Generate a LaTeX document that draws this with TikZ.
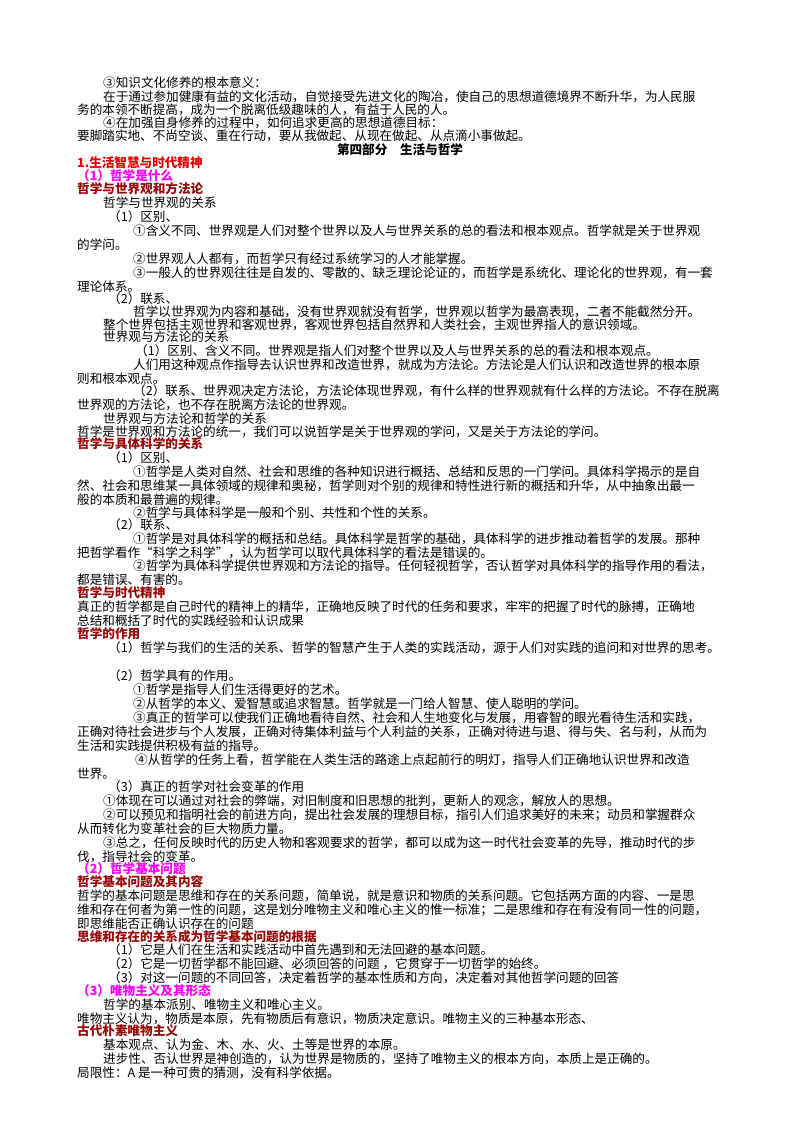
\documentclass[tikz,border=0pt]{standalone}
\usepackage{fontspec}
\setmainfont{Noto Sans CJK SC}
\definecolor{hred}{RGB}{235,0,0}
\definecolor{hmag}{RGB}{255,0,255}
\definecolor{hdark}{RGB}{150,10,10}
\tikzset{ln/.style={anchor=west,inner sep=0pt,font=\fontsize{12.6}{14}\selectfont},
hd/.style={ln,font=\fontsize{12.6}{14}\selectfont\bfseries}}
\newcommand\Lx[4][]{\node[ln,#1] at (#2,#3) {#4};}
\newcommand\Hx[4]{\node[hd,text=#1] at (#2,#3) {#4};}
\begin{document}
\begin{tikzpicture}[x=1pt,y=-1pt]
\useasboundingbox[fill=white] (0,0) rectangle (800,1132);
\Lx{103}{83}{③知识文化修养的根本意义：}
\Lx{103}{97}{在于通过参加健康有益的文化活动，自觉接受先进文化的陶冶，使自己的思想道德境界不断升华，为人民服}
\Lx{77}{110}{务的本领不断提高，成为一个脱离低级趣味的人，有益于人民的人。}
\Lx{103}{123}{④在加强自身修养的过程中，如何追求更高的思想道德目标：}
\Lx{77}{136}{要脚踏实地、不尚空谈、重在行动，要从我做起、从现在做起、从点滴小事做起。}
\node[hd,anchor=center] at (400,150) {第四部分\quad 生活与哲学};
\Hx{hred}{77}{163}{1.生活智慧与时代精神}
\Hx{hmag}{77}{176}{（1）哲学是什么}
\Hx{hdark}{77}{189}{哲学与世界观和方法论}
\Lx{103}{203}{哲学与世界观的关系}
\Lx{108}{217}{（1）区别、}
\Lx{133}{231}{①含义不同、世界观是人们对整个世界以及人与世界关系的总的看法和根本观点。哲学就是关于世界观}
\Lx{77}{245}{的学问。}
\Lx{133}{259}{②世界观人人都有，而哲学只有经过系统学习的人才能掌握。}
\Lx{133}{273}{③一般人的世界观往往是自发的、零散的、缺乏理论论证的，而哲学是系统化、理论化的世界观，有一套}
\Lx{77}{287}{理论体系。}
\Lx{108}{299}{（2）联系、}
\Lx{133}{312}{哲学以世界观为内容和基础，没有世界观就没有哲学，世界观以哲学为最高表现，二者不能截然分开。}
\Lx{103}{325}{整个世界包括主观世界和客观世界，客观世界包括自然界和人类社会，主观世界指人的意识领域。}
\Lx{103}{337}{世界观与方法论的关系}
\Lx{135}{351}{（1）区别、含义不同。世界观是指人们对整个世界以及人与世界关系的总的看法和根本观点。}
\Lx{133}{365}{人们用这种观点作指导去认识世界和改造世界，就成为方法论。方法论是人们认识和改造世界的根本原}
\Lx{77}{379}{则和根本观点。}
\Lx{133}{391}{（2）联系、世界观决定方法论，方法论体现世界观，有什么样的世界观就有什么样的方法论。不存在脱离}
\Lx{77}{405}{世界观的方法论，也不存在脱离方法论的世界观。}
\Lx{103}{419}{世界观与方法论和哲学的关系}
\Lx{77}{432}{哲学是世界观和方法论的统一，我们可以说哲学是关于世界观的学问，又是关于方法论的学问。}
\Hx{hdark}{77}{444}{哲学与具体科学的关系}
\Lx{108}{458}{（1）区别、}
\Lx{133}{472}{①哲学是人类对自然、社会和思维的各种知识进行概括、总结和反思的一门学问。具体科学揭示的是自}
\Lx{77}{486}{然、社会和思维某一具体领域的规律和奥秘，哲学则对个别的规律和特性进行新的概括和升华，从中抽象出最一}
\Lx{77}{500}{般的本质和最普遍的规律。}
\Lx{133}{513}{②哲学与具体科学是一般和个别、共性和个性的关系。}
\Lx{108}{525}{（2）联系、}
\Lx{133}{539}{①哲学是对具体科学的概括和总结。具体科学是哲学的基础，具体科学的进步推动着哲学的发展。那种}
\Lx{77}{553}{把哲学看作“科学之科学”，认为哲学可以取代具体科学的看法是错误的。}
\Lx{133}{566}{②哲学为具体科学提供世界观和方法论的指导。任何轻视哲学，否认哲学对具体科学的指导作用的看法，}
\Lx{77}{580}{都是错误、有害的。}
\Hx{hdark}{77}{593}{哲学与时代精神}
\Lx{77}{607}{真正的哲学都是自己时代的精神上的精华，正确地反映了时代的任务和要求，牢牢的把握了时代的脉搏，正确地}
\Lx{77}{621}{总结和概括了时代的实践经验和认识成果}
\Hx{hdark}{77}{634}{哲学的作用}
\Lx{108}{648}{（1）哲学与我们的生活的关系、哲学的智慧产生于人类的实践活动，源于人们对实践的追问和对世界的思考。}
\Lx{108}{676}{（2）哲学具有的作用。}
\Lx{133}{690}{①哲学是指导人们生活得更好的艺术。}
\Lx{133}{704}{②从哲学的本义、爱智慧或追求智慧。哲学就是一门给人智慧、使人聪明的学问。}
\Lx{133}{718}{③真正的哲学可以使我们正确地看待自然、社会和人生地变化与发展，用睿智的眼光看待生活和实践，}
\Lx{77}{732}{正确对待社会进步与个人发展，正确对待集体利益与个人利益的关系，正确对待进与退、得与失、名与利，从而为}
\Lx{77}{746}{生活和实践提供积极有益的指导。}
\Lx{135}{760}{④从哲学的任务上看，哲学能在人类生活的路途上点起前行的明灯，指导人们正确地认识世界和改造}
\Lx{77}{774}{世界。}
\Lx{108}{787}{（3）真正的哲学对社会变革的作用}
\Lx{103}{801}{①体现在可以通过对社会的弊端，对旧制度和旧思想的批判，更新人的观念，解放人的思想。}
\Lx{103}{815}{②可以预见和指明社会的前进方向，提出社会发展的理想目标，指引人们追求美好的未来；动员和掌握群众}
\Lx{77}{829}{从而转化为变革社会的巨大物质力量。}
\Lx{103}{843}{③总之，任何反映时代的历史人物和客观要求的哲学，都可以成为这一时代社会变革的先导，推动时代的步}
\Lx{77}{857}{伐，指导社会的变革。}
\Hx{hmag}{77}{869}{（2）哲学基本问题}
\Hx{hdark}{77}{882}{哲学基本问题及其内容}
\Lx{77}{896}{哲学的基本问题是思维和存在的关系问题，简单说，就是意识和物质的关系问题。它包括两方面的内容、一是思}
\Lx{77}{910}{维和存在何者为第一性的问题，这是划分唯物主义和唯心主义的惟一标准；二是思维和存在有没有同一性的问题，}
\Lx{77}{924}{即思维能否正确认识存在的问题}
\Hx{hdark}{77}{937}{思维和存在的关系成为哲学基本问题的根据}
\Lx{108}{950}{（1）它是人们在生活和实践活动中首先遇到和无法回避的基本问题。}
\Lx{108}{964}{（2）它是一切哲学都不能回避、必须回答的问题\ ，它贯穿于一切哲学的始终。}
\Lx{108}{978}{（3）对这一问题的不同回答，决定着哲学的基本性质和方向，决定着对其他哲学问题的回答}
\Hx{hmag}{77}{991}{（3）唯物主义及其形态}
\Lx{103}{1005}{哲学的基本派别、唯物主义和唯心主义。}
\Lx{77}{1019}{唯物主义认为，物质是本原，先有物质后有意识，物质决定意识。唯物主义的三种基本形态、}
\Hx{hdark}{77}{1031}{古代朴素唯物主义}
\Lx{103}{1045}{基本观点、认为金、木、水、火、土等是世界的本原。}
\Lx{103}{1059}{进步性、否认世界是神创造的，认为世界是物质的，坚持了唯物主义的根本方向，本质上是正确的。}
\Lx{77}{1073}{局限性：A 是一种可贵的猜测，没有科学依据。}
\end{tikzpicture}
\end{document}
